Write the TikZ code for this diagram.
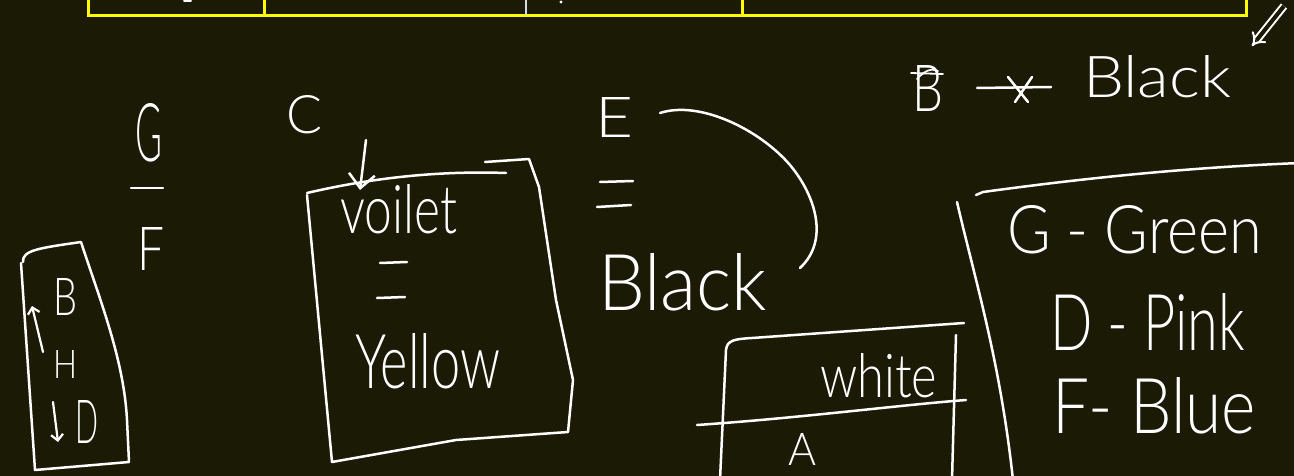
\documentclass[tikz,border=0pt]{standalone}
\usepackage{fontspec}
\IfFontExistsTF{Lato Light}{\setmainfont{Lato Light}}{\setmainfont{Lato}}
\usetikzlibrary{arrows.meta}
\definecolor{board}{RGB}{27,26,5}
\definecolor{chalk}{RGB}{255,255,255}
\definecolor{tableyellow}{RGB}{255,255,0}
\newcommand{\hw}[3]{\resizebox{#1pt}{#2pt}{#3}}
\begin{document}
\begin{tikzpicture}[x=1pt,y=-1pt,
  pen/.style={draw=chalk, line width=2.5pt, line cap=round, line join=round},
  ypen/.style={draw=tableyellow, line width=3pt},
  hwtext/.style={anchor=north west, inner sep=0pt, outer sep=0pt, text=chalk},
]
\fill[board] (0,0) rectangle (1294,476);
\useasboundingbox (0,0) rectangle (1294,476);

% table remnant at the top
\draw[ypen] (88,-4) -- (88,16) -- (1246,16) -- (1246,-4);
\draw[ypen] (264,-4) -- (264,16);
\draw[ypen] (742,-4) -- (742,16);
\draw[draw=white!85!black, line width=2.2pt] (526,-4) -- (526,15);
\draw[pen, line width=2pt] (184,1) -- (191,1);
\fill[chalk] (561,2) circle (1.6);

% G / F
\node[hwtext] (g1) at (135,103) {\hw{27}{58}{G}};
\node[hwtext] (f1) at (137,227) {\hw{27}{43}{F}};
\draw[pen] (131,188) -- (163,188);

% left box B H D
\node[hwtext] (lb) at (53,278) {\hw{24}{37}{B}};
\node[hwtext] (lh) at (53,350) {\hw{24}{28}{H}};
\node[hwtext] (ld) at (75,400) {\hw{23}{43}{D}};
\draw[pen] (23,262) .. controls (22,250) and (40,248) .. (81,242);
\draw[pen] (81,242) .. controls (100,300) and (124,360) .. (127,420) -- (129,462) -- (35,470) -- (21,263);
\coordinate (upA) at (43,352);
\coordinate (upB) at (32,306);
\draw[pen, line width=2.2pt, -{Straight Barb[length=6pt,width=12pt]}] (upA) -- (upB);
\coordinate (dnA) at (53,402);
\coordinate (dnB) at (58,442);
\draw[pen, line width=2.2pt, -{Straight Barb[length=6pt,width=12pt]}] (dnA) -- (dnB);

% C box
\node[hwtext] (c1) at (286,95) {\hw{36}{38}{C}};
\coordinate (cA) at (366,140);
\coordinate (cB) at (360,190);
\draw[pen, -{Straight Barb[length=14pt,width=26pt]}] (cA) -- (cB);
\draw[pen] (307,193) .. controls (350,183) and (420,170) .. (506,173);
\draw[pen] (485,162) -- (529,159) -- (539,187) -- (556,300) -- (573,380) -- (568,432) -- (456,440) -- (332,462) -- (307,195);
\node[hwtext] (voilet) at (340,184) {\hw{117}{49}{voilet}};
\draw[pen] (380,263) -- (407,262);
\draw[pen] (377,298) -- (405,297);
\node[hwtext] (yellow) at (355,333) {\hw{145}{55}{Yellow}};

% E = Black
\node[hwtext] (e1) at (595,97) {\hw{38}{40}{E}};
\draw[pen] (600,182) -- (633,181);
\draw[pen] (597,207) -- (631,205);
\node[hwtext] (black1) at (598,253) {\hw{169}{57}{Black}};
\coordinate (arcA) at (660,113);
\coordinate (arcB) at (800,268);
\draw[pen] (arcA) .. controls (700,100) and (760,130) .. (790,165) .. controls (815,195) and (830,240) .. (arcB);

% B -x- Black
\node[hwtext] (bx) at (912,65) {\hw{31}{46}{B}};
\draw[pen, line width=1.8pt] (911,73) -- (943,74);
\draw[pen, line width=1.8pt] (917,79) .. controls (925,70) and (932,68) .. (938,71);
\draw[pen] (977,88) -- (1051,87);
\draw[pen] (1008,77) -- (1028,102);
\draw[pen] (1032,77) -- (1015,102);
\node[hwtext] (black2) at (1083,55) {\hw{148}{42}{Black}};
\coordinate (dblA) at (1284,6);
\coordinate (dblB) at (1252,46);
\draw[draw=chalk, line width=2pt, double=board, double distance=4pt, -{Implies}] (dblA) -- (dblB);

% white / A box
\draw[pen] (720,480) -- (726,350) .. controls (727,340) and (735,339) .. (752,338) -- (964,323);
\draw[pen] (956,335) -- (952,480);
\draw[pen] (697,425) .. controls (800,418) and (900,405) .. (966,400);
\node[hwtext] (white) at (820,353) {\hw{117}{44}{white}};
\node[hwtext] (a1) at (788,433) {\hw{28}{32}{A}};

% legend area
\draw[pen] (957,202) .. controls (975,280) and (1000,360) .. (1013,480);
\draw[pen] (976,195) -- (983,192) .. controls (1100,176) and (1200,167) .. (1300,163);
\node[hwtext] (green) at (1007,205) {\hw{255}{48}{G - Green}};
\node[hwtext] (pink) at (1050,293) {\hw{195}{57}{D - Pink}};
\node[hwtext] (blue) at (1052,377) {\hw{204}{56}{F- Blue}};
\end{tikzpicture}
\end{document}
